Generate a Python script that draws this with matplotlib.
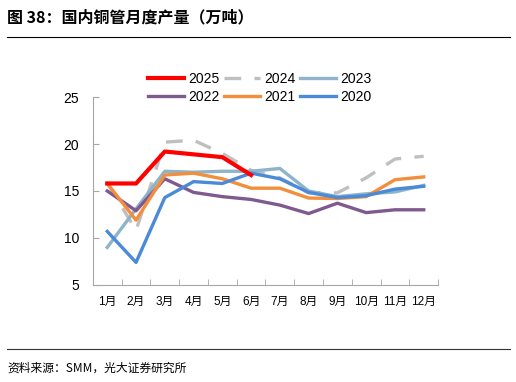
import matplotlib.pyplot as plt
from matplotlib.lines import Line2D

plt.rcParams['font.family'] = ['Noto Sans CJK SC', 'DejaVu Sans']
num_font = ['Liberation Sans', 'Noto Sans CJK SC']

months = ['1月', '2月', '3月', '4月', '5月', '6月', '7月', '8月', '9月', '10月', '11月', '12月']
y2025 = [15.8, 15.8, 19.2, 18.9, 18.6, 16.7]
y2024 = [15.9, 10.8, 20.2, 20.4, 19.0, 17.2, 16.4, 14.8, 14.8, 16.4, 18.4, 18.7]
y2023 = [9.0, 13.1, 17.1, 17.0, 17.1, 17.1, 17.4, 15.0, 14.4, 14.7, 14.9, 15.6]
y2022 = [15.0, 12.9, 16.3, 14.85, 14.4, 14.1, 13.5, 12.6, 13.7, 12.7, 13.0, 13.0]
y2021 = [15.8, 11.9, 16.7, 16.9, 16.3, 15.3, 15.3, 14.25, 14.2, 14.4, 16.2, 16.5]
y2020 = [10.7, 7.4, 14.3, 16.0, 15.8, 16.9, 16.3, 14.85, 14.3, 14.5, 15.2, 15.5]

fig = plt.figure(figsize=(5.16, 3.82), dpi=100)
ax = fig.add_axes([0.180, 0.254, 0.669, 0.492])

x = list(range(len(months)))
c2025, c2024, c2023 = '#FF0000', '#BFBFBF', '#8EB4CB'
c2022, c2021, c2020 = '#7E5A8E', '#F28E3C', '#4A8AD8'
dash = (5, 4)

ax.plot(x, y2024, color=c2024, lw=2.4, dashes=dash, zorder=2)
ax.plot(x, y2023, color=c2023, lw=2.4, zorder=3)
ax.plot(x, y2022, color=c2022, lw=2.4, zorder=3)
ax.plot(x, y2021, color=c2021, lw=2.4, zorder=3)
ax.plot(x, y2020, color=c2020, lw=2.4, zorder=4)
ax.plot(x[:len(y2025)], y2025, color=c2025, lw=3.0, zorder=5)

ax.set_xlim(-0.5, 11.5)
ax.set_ylim(5, 25)
ax.set_yticks([5, 10, 15, 20, 25])
ax.set_xticks(x)
ax.set_xticklabels(months)
ax.set_xticks([i + 0.5 for i in range(-1, 12)], minor=True)
ax.tick_params(axis='x', which='major', length=0, labelsize=8.5, pad=8)
ax.tick_params(axis='x', which='minor', direction='in', length=4, color='#A6A6A6')
ax.tick_params(axis='y', direction='in', length=4, color='#A6A6A6', labelsize=10, pad=10)
for lab in ax.get_yticklabels() + ax.get_xticklabels():
    lab.set_family(num_font)
for s in ['top', 'right']:
    ax.spines[s].set_visible(False)
for s in ['left', 'bottom']:
    ax.spines[s].set_color('#A6A6A6')

# legend filled column by column, so order handles to read row-wise
handles = [
    Line2D([], [], color=c2025, lw=3.0),
    Line2D([], [], color=c2022, lw=2.4),
    Line2D([], [], color=c2024, lw=2.4, dashes=dash),
    Line2D([], [], color=c2021, lw=2.4),
    Line2D([], [], color=c2023, lw=2.4),
    Line2D([], [], color=c2020, lw=2.4),
]
labels = ['2025', '2022', '2024', '2021', '2023', '2020']
fig.legend(handles, labels, ncol=3, loc='center', bbox_to_anchor=(0.503, 0.770),
           frameon=False, prop={'family': num_font, 'size': 10},
           handlelength=2.6, handletextpad=0.3, columnspacing=0.3, labelspacing=0.3)

fig.text(0.014, 0.955, '图 38：国内铜管月度产量（万吨）', fontsize=11.5, fontweight='bold', va='center')
fig.add_artist(Line2D([0.014, 0.988], [0.903, 0.903], color='black', lw=0.8))
fig.add_artist(Line2D([0.014, 0.988], [0.086, 0.086], color='#333333', lw=0.8))
fig.text(0.014, 0.036, '资料来源：SMM，光大证券研究所', fontsize=8.5, va='center')

fig.savefig('out.png', dpi=100)
